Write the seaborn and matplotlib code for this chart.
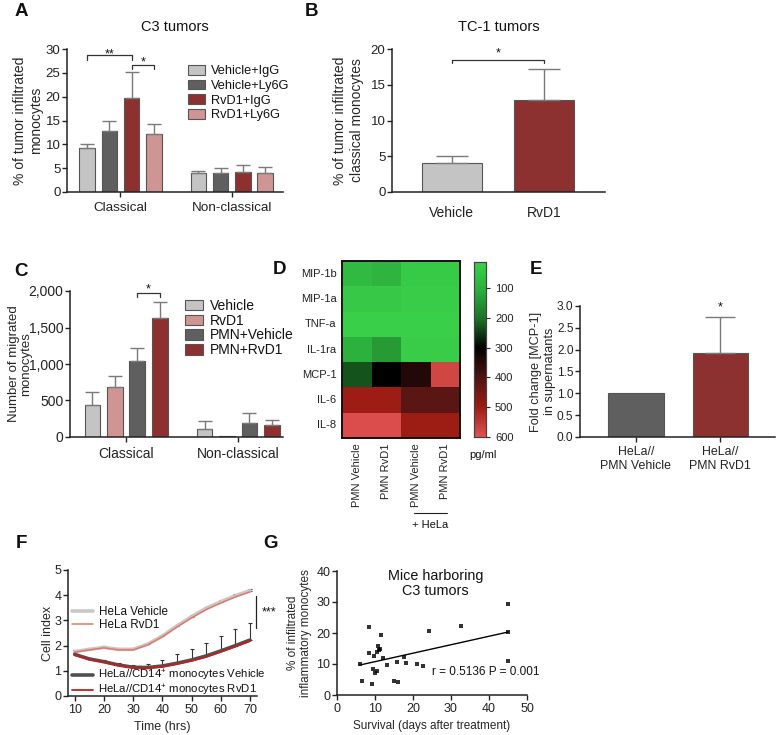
import numpy as np
import pandas as pd
import matplotlib
matplotlib.use("Agg")
import matplotlib.pyplot as plt
import matplotlib.transforms as mtransforms
import seaborn as sns
from matplotlib.colors import LinearSegmentedColormap
from matplotlib.container import BarContainer

# ---------------- data ----------------
# A: C3 tumors, % infiltrating monocytes
a_groups = ["Classical", "Non-classical"]
a_conditions = ["Vehicle+IgG", "Vehicle+Ly6G", "RvD1+IgG", "RvD1+Ly6G"]
a_classical = [9.2, 12.9, 19.8, 12.1]
a_classical_err = [0.8, 2.1, 5.4, 2.2]
a_nonclassical = [3.9, 4.0, 4.3, 4.0]
a_nonclassical_err = [0.6, 1.1, 1.4, 1.2]

# B: TC-1 tumors
b_groups = ["Vehicle", "RvD1"]
b_mean = [4.0, 12.8]
b_err = [1.05, 4.35]

# C: migrated monocytes
c_groups = ["Classical", "Non-classical"]
c_conditions = ["Vehicle", "RvD1", "PMN+Vehicle", "PMN+RvD1"]
c_classical = [445, 690, 1045, 1632]
c_classical_err = [169, 146, 169, 223]
c_nonclassical = [109, 10, 195, 159]
c_nonclassical_err = [105, 0, 128, 77]

# D: cytokines (pg/ml)
d_rows = ["MIP-1b", "MIP-1a", "TNF-a", "IL-1ra", "MCP-1", "IL-6", "IL-8"]
d_cols = ["PMN Vehicle", "PMN RvD1", "PMN Vehicle", "PMN RvD1"]
d_values = [
    [75, 90, 35, 35],
    [40, 40, 30, 30],
    [20, 20, 20, 20],
    [100, 140, 30, 30],
    [230, 300, 345, 575],
    [500, 500, 415, 415],
    [590, 590, 500, 500],
]
d_ticks = [100, 200, 300, 400, 500, 600]

# E: MCP-1 fold change
e_groups = ["HeLa//\nPMN Vehicle", "HeLa//\nPMN RvD1"]
e_mean = [1.0, 1.92]
e_err = [0.0, 0.83]

# F: cell index over time
f_time = [10, 15, 20, 25, 30, 35, 40, 45, 50, 55, 60, 65, 70]
f_hela_vehicle = [1.76, 1.85, 1.93, 1.85, 1.85, 2.06, 2.38, 2.78, 3.15, 3.48, 3.74, 3.98, 4.18]
f_hela_rvd1 = [1.74, 1.83, 1.91, 1.83, 1.83, 2.03, 2.35, 2.74, 3.10, 3.43, 3.69, 3.93, 4.13]
f_hela_err = [0.05, 0.05, 0.05, 0.05, 0.05, 0.05, 0.05, 0.05, 0.05, 0.05, 0.05, 0.05, 0.05]
f_mono_vehicle = [1.65, 1.47, 1.36, 1.23, 1.14, 1.13, 1.19, 1.30, 1.43, 1.59, 1.79, 2.00, 2.22]
f_mono_rvd1 = [1.63, 1.45, 1.34, 1.21, 1.12, 1.11, 1.16, 1.27, 1.40, 1.55, 1.75, 1.96, 2.18]
f_mono_err = [0.0, 0.05, 0.06, 0.08, 0.1, 0.14, 0.24, 0.35, 0.42, 0.53, 0.59, 0.65, 0.69]

# G: survival vs inflammatory monocytes
g_survival = [6.0, 6.7, 8.5, 8.3, 9.3, 9.8, 9.4, 10.0, 10.4, 10.6, 10.9, 11.1, 11.3, 11.5,
              12.0, 13.1, 15.0, 15.7, 16.1, 17.5, 18.2, 21.1, 22.5, 24.3, 32.6, 45.1, 45.1, 45.1]
g_monocytes = [9.9, 4.6, 21.8, 13.7, 3.5, 12.6, 8.3, 7.0, 7.8, 14.0, 15.8, 14.5, 14.7, 19.4,
               11.8, 9.8, 4.6, 10.8, 4.2, 12.4, 10.4, 10.0, 9.5, 20.8, 22.4, 29.2, 20.4, 11.1]

# ---------------- style ----------------
LGRAY = "#c4c4c4"
DGRAY = "#5f5f5f"
DRED = "#9b2121"
PINK = "#d98c88"
EDGE = "#555555"
ERR = "#7a7a7a"

sns.set_style("ticks")
plt.rcParams["font.family"] = ["Liberation Sans", "DejaVu Sans"]
plt.rcParams["mathtext.fontset"] = "custom"
plt.rcParams["mathtext.rm"] = "Liberation Sans"
plt.rcParams["axes.linewidth"] = 1.1
plt.rcParams["axes.edgecolor"] = "#222222"
plt.rcParams["xtick.color"] = "#222222"
plt.rcParams["ytick.color"] = "#222222"
plt.rcParams["text.color"] = "#111111"

W, H = 778, 735
fig = plt.figure(figsize=(W / 100, H / 100), dpi=100)


def px_axes(x0, y0, x1, y1):
    return fig.add_axes([x0 / W, 1 - y1 / H, (x1 - x0) / W, (y1 - y0) / H])


def letter(x, y, s):
    fig.text(x / W, 1 - y / H, s, fontsize=13.5, fontweight="bold", ha="center", va="center")


def finish(ax, fs):
    sns.despine(ax=ax)
    ax.tick_params(labelsize=fs, length=3.5, width=1, pad=2)
    ax.tick_params(axis="y", pad=1.2)
    ax.set_xlabel("")


def bars(ax):
    return [p for c in ax.containers if isinstance(c, BarContainer) for p in c.patches]


def add_errorbars(ax, errs, cap):
    for p, e in zip(bars(ax), errs):
        if e <= 0:
            continue
        xc = p.get_x() + p.get_width() / 2
        ax.errorbar(xc, p.get_height(), yerr=[[0], [e]], fmt="none", ecolor=ERR,
                    elinewidth=1, capsize=cap, capthick=1, zorder=1)


def bar_center(ax, i):
    p = bars(ax)[i]
    return p.get_x() + p.get_width() / 2


def bracket(ax, i, j, y, drop, text, dy, fs=9):
    x1, x2 = bar_center(ax, i), bar_center(ax, j)
    ax.plot([x1, x1, x2, x2], [y - drop, y, y, y - drop], color="#333333", lw=0.9)
    tr = mtransforms.offset_copy(ax.transData, fig=fig, y=dy, units="dots")
    ax.text((x1 + x2) / 2, y, text, ha="center", va="center", fontsize=fs, transform=tr)


# ---------------- A ----------------
df_a = pd.DataFrame({
    "group": np.repeat(a_groups, len(a_conditions)),
    "condition": a_conditions * len(a_groups),
    "value": a_classical + a_nonclassical,
})
ax = px_axes(67, 49, 283, 192)
sns.barplot(data=df_a, x="group", y="value", hue="condition", order=a_groups,
            hue_order=a_conditions, palette=[LGRAY, DGRAY, DRED, PINK], width=0.8, gap=0.3,
            edgecolor=EDGE, linewidth=0.8, errorbar=None, ax=ax)
errs = []
for i in range(len(a_conditions)):
    errs += [a_classical_err[i], a_nonclassical_err[i]]
add_errorbars(ax, errs, 5)
ax.set_ylim(0, 30)
ax.set_xlim(-0.48, 1.46)
ax.set_yticks([0, 5, 10, 15, 20, 25, 30])
finish(ax, 9.5)
ax.tick_params(axis="x", labelsize=9.7, pad=4)
ax.set_ylabel("% of tumor infiltrated\nmonocytes", fontsize=10, labelpad=2)
ax.set_title("C3 tumors", fontsize=10.5, pad=13)
# brackets: bar index in container order (condition-major)
bracket(ax, 0, 4, 28.7, 1.0, "**", 1)
bracket(ax, 4, 6, 26.6, 0.7, "*", 2.5)
sns.move_legend(ax, "upper left", bbox_to_anchor=(188 / W, 1 - 65 / H),
                bbox_transform=fig.transFigure, frameon=False, title=None, fontsize=9.2,
                handlelength=1.3, handleheight=0.8, handletextpad=0.5, labelspacing=0.18,
                borderpad=0, borderaxespad=0)
letter(21, 12, "A")

# ---------------- B ----------------
df_b = pd.DataFrame({"group": b_groups, "value": b_mean})
ax = px_axes(392, 49, 605, 192)
sns.barplot(data=df_b, x="group", y="value", hue="group", palette=[LGRAY, DRED], legend=False,
            width=0.65, edgecolor=EDGE, linewidth=0.8, errorbar=None, ax=ax)
add_errorbars(ax, b_err, 11.5)
ax.set_ylim(0, 20)
ax.set_xlim(-0.65, 1.66)
ax.set_yticks([0, 5, 10, 15, 20])
finish(ax, 9.5)
ax.tick_params(axis="x", labelsize=10, length=0, pad=10)
ax.set_ylabel("% of tumor infiltrated\nclassical monocytes", fontsize=10, labelpad=5)
ax.set_title("TC-1 tumors", fontsize=10.5, pad=13)
bracket(ax, 0, 1, 18.45, 0.4, "*", 7)
letter(312, 12, "B")

# ---------------- C ----------------
df_c = pd.DataFrame({
    "group": np.repeat(c_groups, len(c_conditions)),
    "condition": c_conditions * len(c_groups),
    "value": c_classical + c_nonclassical,
})
ax = px_axes(70, 291, 283, 437)
sns.barplot(data=df_c, x="group", y="value", hue="condition", order=c_groups,
            hue_order=c_conditions, palette=[LGRAY, PINK, DGRAY, DRED], width=0.8, gap=0.3,
            edgecolor=EDGE, linewidth=0.8, errorbar=None, ax=ax)
errs = []
for i in range(len(c_conditions)):
    errs += [c_classical_err[i], c_nonclassical_err[i]]
add_errorbars(ax, errs, 4.8)
ax.set_ylim(0, 2000)
ax.set_xlim(-0.5, 1.4)
ax.set_yticks([0, 500, 1000, 1500, 2000])
ax.set_yticklabels(["0", "500", "1,000", "1,500", "2,000"])
finish(ax, 10)
ax.tick_params(axis="x", labelsize=10, pad=4)
ax.set_ylabel("Number of migrated\nmonocytes", fontsize=9.5, linespacing=1.0)
ax.yaxis.set_label_coords(-0.178, 0.5)
bracket(ax, 4, 6, 1972, 55, "*", 3.5)
sns.move_legend(ax, "upper left", bbox_to_anchor=(185 / W, 1 - 299 / H),
                bbox_transform=fig.transFigure, frameon=False, title=None, fontsize=10,
                handlelength=1.3, handleheight=0.8, handletextpad=0.5, labelspacing=0.05,
                borderpad=0, borderaxespad=0)
letter(21, 272, "C")

# ---------------- D ----------------
cmap = LinearSegmentedColormap.from_list("gbr", [
    (0.0, "#3ad24a"), (0.17, "#2bab3c"), (0.33, "#1c6e26"), (0.49, "#000000"),
    (0.66, "#4e1512"), (0.83, "#9c1c12"), (1.0, "#e05252")])
df_d = pd.DataFrame(d_values, index=d_rows)
ax = px_axes(342, 261, 460, 438)
cax = px_axes(474, 262, 486, 437)
sns.heatmap(df_d, cmap=cmap, vmin=13, vmax=600, ax=ax, cbar_ax=cax, linewidths=0,
            xticklabels=d_cols, yticklabels=d_rows)
for s in ax.spines.values():
    s.set_visible(True)
    s.set_linewidth(1.4)
    s.set_color("#111111")
ax.tick_params(length=0, labelsize=8, pad=4)
plt.setp(ax.get_xticklabels(), rotation=90)
plt.setp(ax.get_yticklabels(), rotation=0)
cax.invert_yaxis()
cax.set_yticks(d_ticks)
cax.tick_params(labelsize=8, length=3, width=0.8)
for s in cax.spines.values():
    s.set_visible(True)
    s.set_linewidth(0.8)
    s.set_color("#444444")
tr = ax.get_xaxis_transform()
ax.plot([2.45, 3.55], [-0.425, -0.425], color="#222222", lw=0.8, transform=tr, clip_on=False)
ax.text(3.0, -0.49, "+ HeLa", ha="center", va="center", fontsize=8, transform=tr)
fig.text(483 / W, 1 - 455 / H, "pg/ml", fontsize=8, ha="center", va="center")
letter(279, 270, "D")

# ---------------- E ----------------
df_e = pd.DataFrame({"group": e_groups, "value": e_mean})
ax = px_axes(580, 306, 775, 437)
sns.barplot(data=df_e, x="group", y="value", hue="group", palette=[DGRAY, DRED], legend=False,
            width=0.66, edgecolor=EDGE, linewidth=0.8, errorbar=None, ax=ax)
add_errorbars(ax, e_err, 11)
ax.set_ylim(0, 3)
ax.set_xlim(-0.66, 1.645)
ax.set_yticks([0, 0.5, 1.0, 1.5, 2.0, 2.5, 3.0])
ax.set_yticklabels(["0.0", "0.5", "1.0", "1.5", "2.0", "2.5", "3.0"])
finish(ax, 8.6)
ax.tick_params(axis="x", labelsize=8.9, pad=3)
ax.set_ylabel("Fold change [MCP-1]\nin supernatants", fontsize=9.2, labelpad=1)
p = bars(ax)[1]
ax.text(p.get_x() + p.get_width() / 2, p.get_height() + e_err[1] + 0.08, "*",
        ha="center", va="bottom", fontsize=9)
letter(536, 270, "E")

# ---------------- F ----------------
ax = px_axes(68, 570, 257, 696)
ax.errorbar(f_time, f_hela_vehicle, yerr=[[0] * len(f_time), f_hela_err], fmt="none",
            ecolor="#333333", elinewidth=0.8, capsize=1.6, capthick=0.8)
ax.errorbar(f_time, f_mono_vehicle, yerr=[[0] * len(f_time), f_mono_err], fmt="none",
            ecolor="#333333", elinewidth=0.8, capsize=1.6, capthick=0.8)
sns.lineplot(x=f_time, y=f_hela_vehicle, color="#c8c8c8", lw=2.6, label="HeLa Vehicle", ax=ax)
sns.lineplot(x=f_time, y=f_hela_rvd1, color="#e2786a", lw=1.1, label="HeLa RvD1", ax=ax)
sns.lineplot(x=f_time, y=f_mono_vehicle, color="#505050", lw=2.6,
             label="HeLa//CD14$^{+}$ monocytes Vehicle", ax=ax)
sns.lineplot(x=f_time, y=f_mono_rvd1, color="#c41e1e", lw=1.3,
             label="HeLa//CD14$^{+}$ monocytes RvD1", ax=ax)
ax.set_xlim(7.7, 72.4)
ax.set_ylim(0, 5)
ax.set_xticks([10, 20, 30, 40, 50, 60, 70])
ax.set_yticks([0, 1, 2, 3, 4, 5])
finish(ax, 9)
ax.set_xlabel("Time (hrs)", fontsize=9, labelpad=4)
ax.set_ylabel("Cell index", fontsize=9, labelpad=0)
handles, labels = ax.get_legend_handles_labels()
leg1 = ax.legend(handles[:2], labels[:2], loc="upper left", bbox_to_anchor=(72 / W, 1 - 606 / H),
                 bbox_transform=fig.transFigure, frameon=False, fontsize=8.4, handlelength=1.8,
                 handletextpad=0.5, labelspacing=0.1, borderpad=0, borderaxespad=0)
ax.add_artist(leg1)
ax.legend(handles[2:], labels[2:], loc="upper left", bbox_to_anchor=(72 / W, 1 - 668 / H),
          bbox_transform=fig.transFigure, frameon=False, fontsize=8.2, handlelength=1.8,
          handletextpad=0.5, labelspacing=0.0, borderpad=0, borderaxespad=0)
ax.plot([72.2, 72.2], [2.7, 3.97], color="#222222", lw=0.9, clip_on=False)
ax.text(74.0, 3.3, "***", fontsize=9, ha="left", va="center")
letter(21, 543, "F")

# ---------------- G ----------------
ax = px_axes(337, 571, 527, 695)
sns.regplot(x=g_survival, y=g_monocytes, ci=None, marker="s", color="black",
            scatter_kws={"s": 9, "linewidths": 0}, line_kws={"lw": 1}, ax=ax)
ax.set_xlim(0, 50)
ax.set_ylim(0, 40)
ax.set_xticks([0, 10, 20, 30, 40, 50])
ax.set_yticks([0, 10, 20, 30, 40])
finish(ax, 9)
ax.set_xlabel("Survival (days after treatment)", fontsize=8.5, labelpad=4)
ax.set_ylabel("% of infiltrated\ninflammatory monocytes", fontsize=8.5, labelpad=3)
ax.text(26, 36, "Mice harboring\nC3 tumors", ha="center", va="center", fontsize=10.4,
        linespacing=1.15)
ax.text(25, 7.4, "r = 0.5136 P = 0.001", ha="left", va="center", fontsize=8.5)
letter(270, 543, "G")

fig.savefig("out.png", dpi=100)
